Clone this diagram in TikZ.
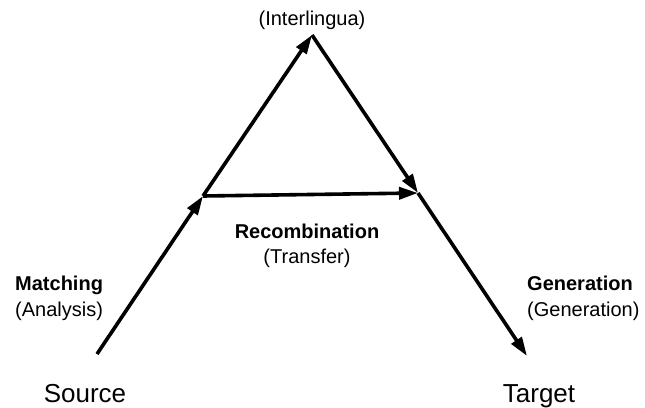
\documentclass[tikz,border=0pt]{standalone}
\usepackage{fontspec}
\setmainfont{Liberation Sans}
\usetikzlibrary{arrows.meta}
\begin{document}
\begin{tikzpicture}[x=1pt,y=-1pt,
  conn/.style={line width=3.6pt,-{Triangle[length=19pt,width=12pt]}},
  lbl/.style={inner sep=0pt,anchor=base,font=\fontsize{20}{22}\selectfont},
  big/.style={inner sep=0pt,anchor=base,font=\fontsize{26}{28}\selectfont}]
\useasboundingbox (0,0) rectangle (645,407);
\coordinate (src) at (97,354);
\coordinate (jl) at (203,196);
\coordinate (apex) at (312,35);
\coordinate (jr) at (418,193);
\coordinate (tgt) at (527,356);
\draw[conn] (src) -- (jl);
\draw[conn] (jl) -- (apex);
\draw[conn] (apex) -- (jr);
\draw[conn] (jl) -- (jr);
\draw[conn] (jr) -- (tgt);
\node[lbl] (inter) at (312,25) {(Interlingua)};
\node[lbl] (recomb) at (307,238) {\bfseries Recombination};
\node[lbl] (transfer) at (307,263) {(Transfer)};
\node[lbl,anchor=base west] (match) at (15,290) {\bfseries Matching};
\node[lbl,anchor=base west] (analysis) at (15,316) {(Analysis)};
\node[lbl,anchor=base west] (gen) at (527,290) {\bfseries Generation};
\node[lbl,anchor=base west] (gen2) at (527,316) {(Generation)};
\node[big] (source) at (85,402) {Source};
\node[big] (target) at (539,402) {Target};
\end{tikzpicture}
\end{document}
